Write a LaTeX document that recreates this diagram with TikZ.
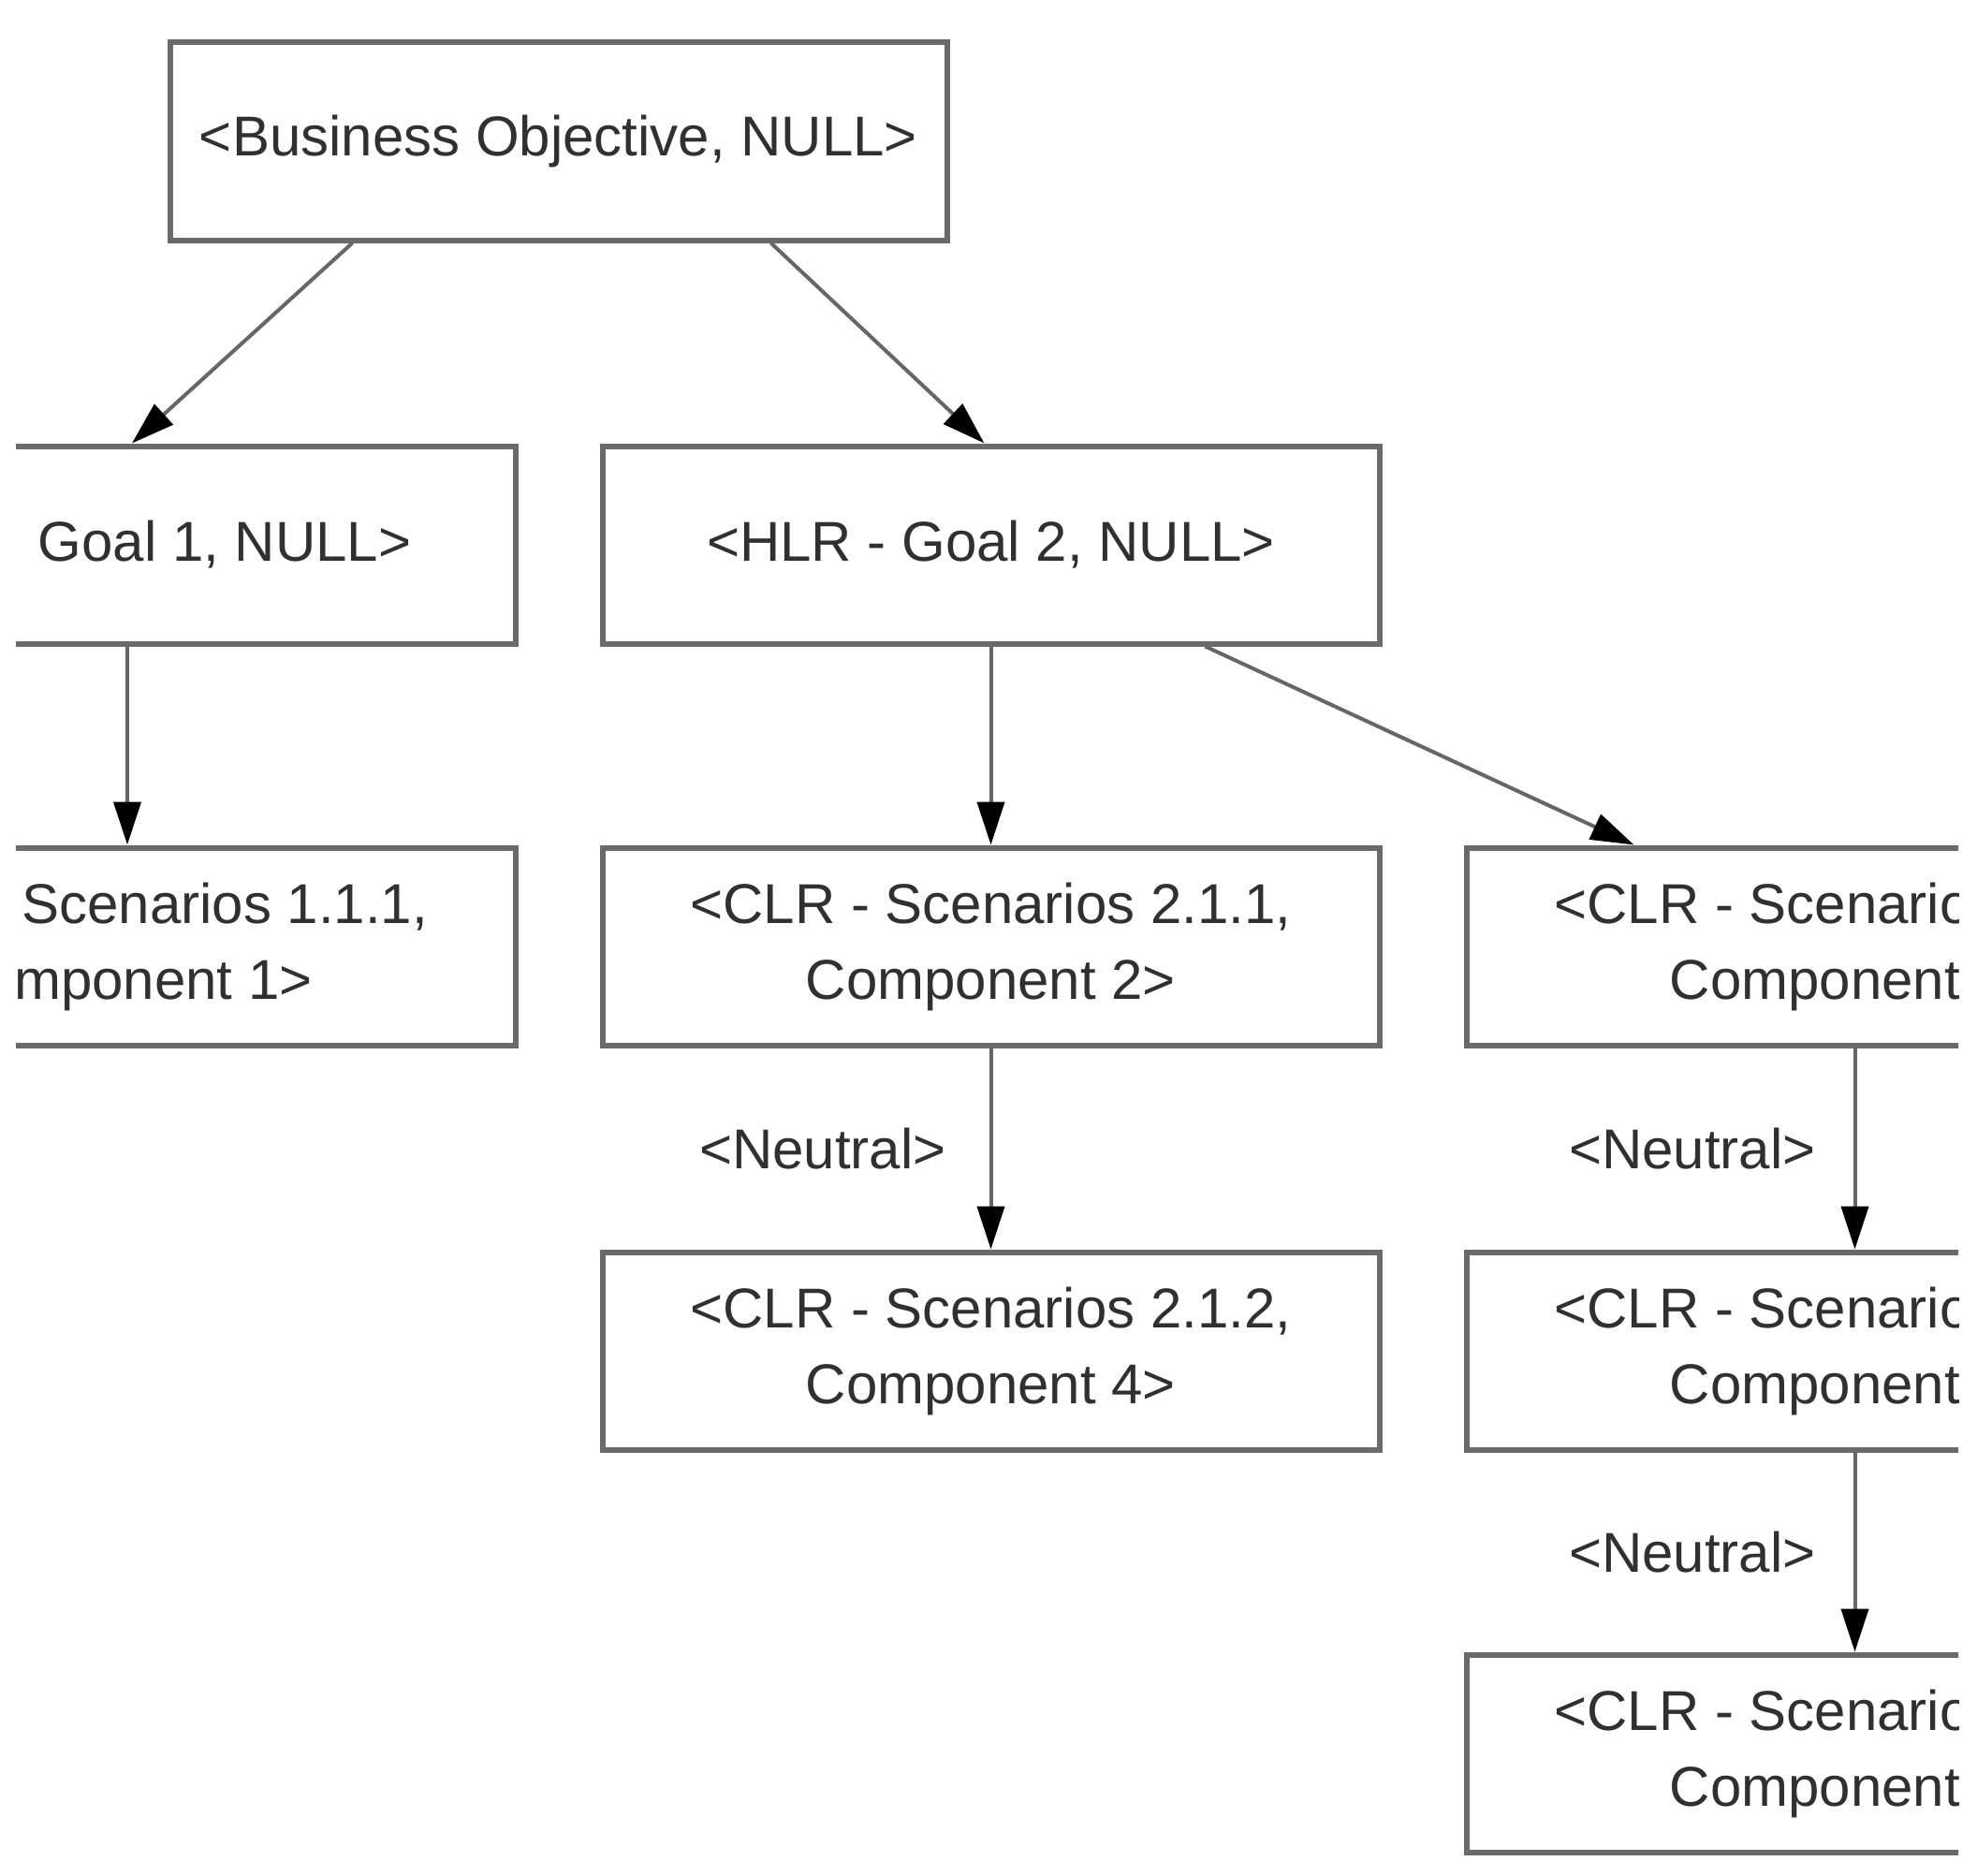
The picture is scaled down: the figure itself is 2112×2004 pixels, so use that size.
\documentclass[tikz,border=0pt]{standalone}
\usepackage{fontspec}
\setmainfont{Liberation Sans}
\usetikzlibrary{arrows.meta}
\definecolor{boxgray}{HTML}{6A6A6A}
\definecolor{linegray}{HTML}{666666}
\definecolor{txtgray}{HTML}{303030}
\begin{document}
\begin{tikzpicture}[x=1pt,y=-1pt,
  box/.style={draw=boxgray, line width=6pt, minimum width=830pt, minimum height=211pt,
    inner sep=0pt, align=center, text=txtgray, font=\fontsize{60}{81}\selectfont},
  arr/.style={draw=linegray, line width=4pt, -{Triangle[length=46pt,width=29pt,color=black]}},
  lab/.style={inner sep=0pt, text=txtgray, font=\fontsize{60}{72}\selectfont}]
\fill[white] (0,0) rectangle (2112,2004);
\useasboundingbox (0,0) rectangle (2112,2004);
\begin{scope}
\clip (17,0) rectangle (2092,2004);
\node[box] (bo) at (596.5,151) {<Business Objective, NULL>};
\node[box] (g1) at (136,582) {\phantom{<HLR - }Goal 1, NULL>};
\node[box] (hlr) at (1058.5,582) {<HLR - Goal 2, NULL>};
\node[box] (s111) at (136,1011) {\phantom{<CLR - }Scenarios 1.1.1,\\\phantom{Co}mponent 1>};
\node[box] (s211) at (1058.5,1011) {<CLR - Scenarios 2.1.1,\\Component 2>};
\node[box] (r3) at (1981.5,1011) {<CLR - Scenario\phantom{s 2.1.1,}\\Component\phantom{ 2>}};
\node[box] (s212) at (1058.5,1443) {<CLR - Scenarios 2.1.2,\\Component 4>};
\node[box] (r4) at (1981.5,1443) {<CLR - Scenario\phantom{s 2.1.1,}\\Component\phantom{ 2>}};
\node[box] (r5) at (1981.5,1873) {<CLR - Scenario\phantom{s 2.1.1,}\\Component\phantom{ 2>}};
\draw[arr] ([xshift=198pt]bo.south west) -- ([xshift=5pt]g1.north);
\draw[arr] ([xshift=645pt]bo.south west) -- ([xshift=-7pt]hlr.north);
\draw[arr] (g1.south) -- (s111.north);
\draw[arr] (hlr.south) -- (s211.north);
\draw[arr] ([xshift=-189pt]hlr.south east) -- ([xshift=182pt]r3.north west);
\draw[arr] (s211.south) -- node[lab, left=46pt] {<Neutral>} (s212.north);
\draw[arr] (r3.south) -- node[lab, left=40pt] {<Neutral>} (r4.north);
\draw[arr] (r4.south) -- node[lab, left=40pt] {<Neutral>} (r5.north);
\end{scope}
\end{tikzpicture}
\end{document}
